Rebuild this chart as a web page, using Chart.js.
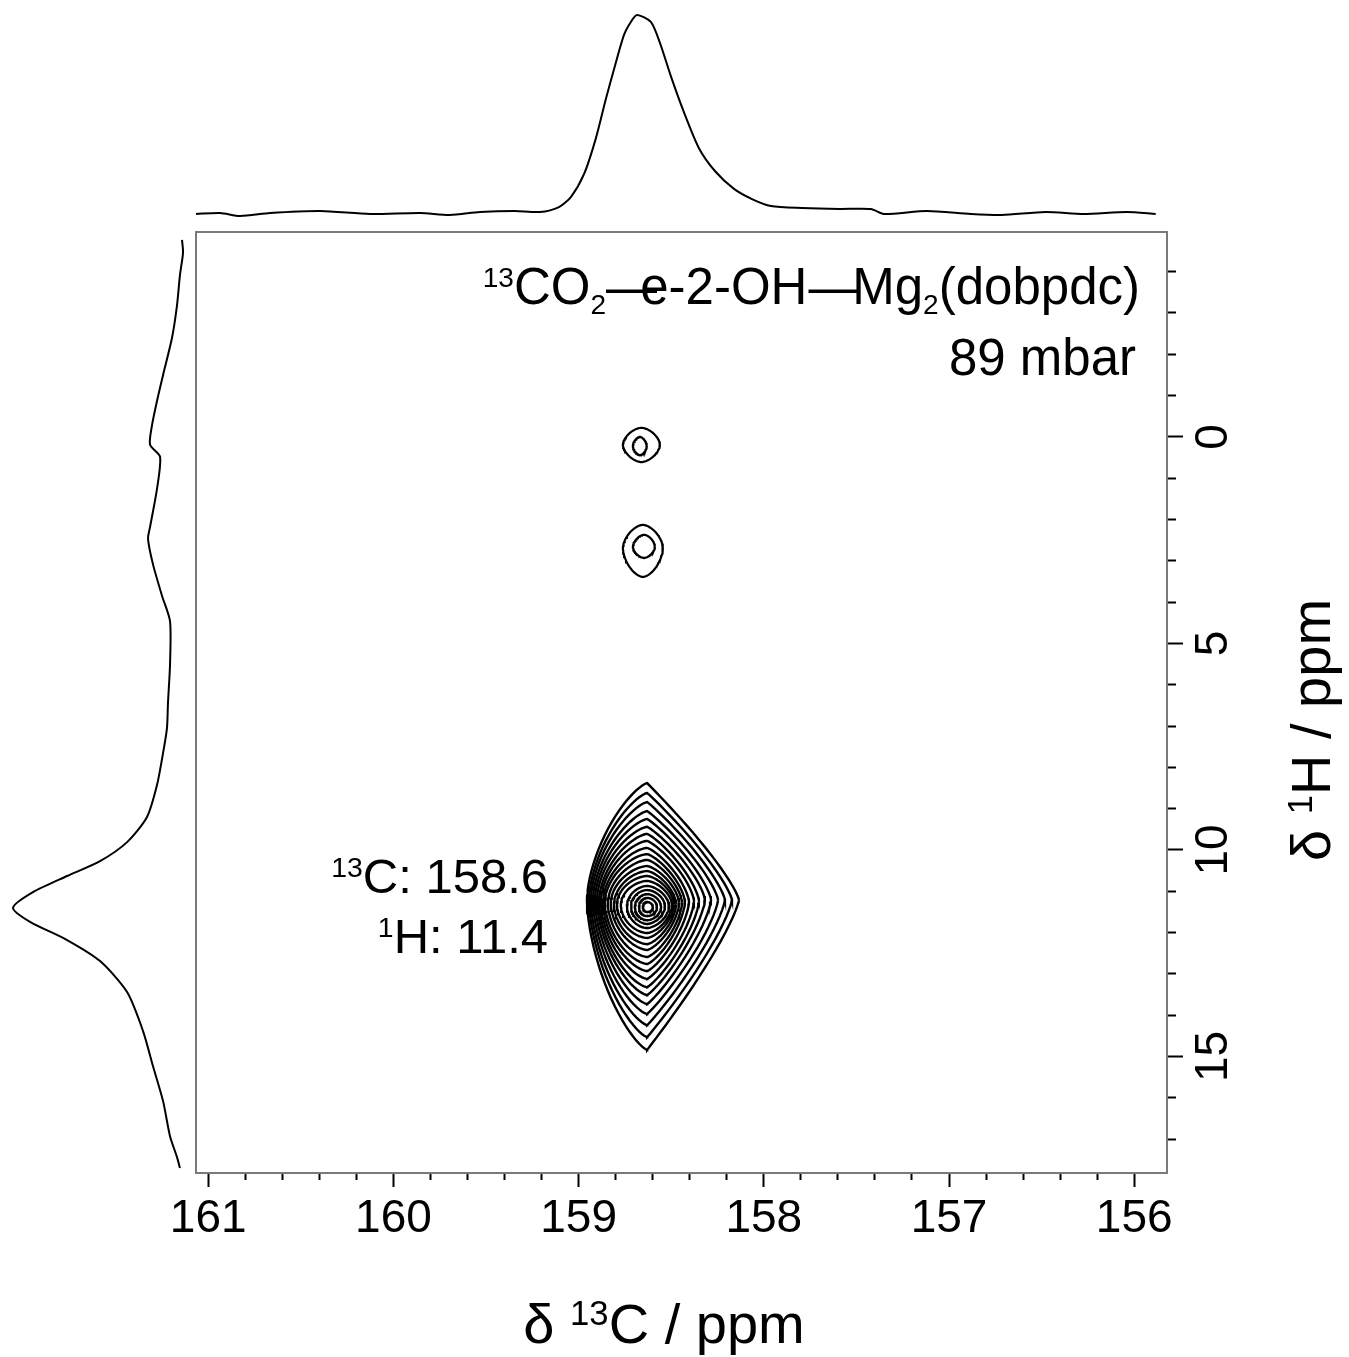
<!DOCTYPE html>
<html><head><meta charset="utf-8">
<script src="https://cdn.jsdelivr.net/npm/chart.js"></script>
<style>
html,body{margin:0;padding:0;background:#fff;}
#wrap{position:relative;width:1349px;height:1357px;background:#fff;}
canvas{position:absolute;left:0;top:0;}
</style></head><body>
<div id="wrap">
<canvas id="cTop" width="1349" height="232"></canvas>
<canvas id="cLeft" width="196" height="1357"></canvas>
<canvas id="cMain" width="1349" height="1357"></canvas>
</div>
<script>
// ---------- axis ranges and tick labels ----------
const C_MIN = 155.823, C_MAX = 161.066;   // 13C ppm (reversed)
const H_MIN = -4.96, H_MAX = 17.82;       // 1H ppm (reversed, downwards)
const cTickLabels = [156, 157, 158, 159, 160, 161];
const hTickLabels = [0, 5, 10, 15];

// ---------- 13C projection (top) ----------
const projC_ppm = [161.066, 160.936, 160.828, 160.666, 160.396, 160.126, 159.856, 159.695, 159.533, 159.344, 159.209, 159.106, 159.042, 158.971, 158.907, 158.853, 158.804, 158.755, 158.718, 158.685, 158.610, 158.561, 158.502, 158.432, 158.351, 158.264, 158.161, 158.064, 157.961, 157.794, 157.589, 157.422, 157.352, 157.120, 156.882, 156.715, 156.478, 156.273, 156.041, 155.884];
const projC_int = [0.0, 0.005, -0.01, 0.005, 0.015, 0.0, 0.005, -0.005, 0.01, 0.015, 0.01, 0.035, 0.085, 0.20, 0.38, 0.578, 0.744, 0.90, 0.965, 1.0, 0.965, 0.86, 0.693, 0.513, 0.332, 0.216, 0.126, 0.075, 0.04, 0.03, 0.025, 0.025, 0.0, 0.015, 0.0, -0.005, 0.01, 0.0, 0.01, 0.0];

// ---------- 1H projection (left) ----------
const projH_ppm = [-4.77, -4.46, -3.92, -3.17, -2.40, -1.50, -0.87, -0.27, 0.19, 0.48, 1.26, 2.18, 2.47, 3.08, 3.85, 4.46, 5.52, 6.44, 7.05, 7.65, 8.43, 9.20, 9.81, 10.27, 10.63, 11.02, 11.40, 11.74, 12.18, 12.69, 13.44, 14.38, 15.23, 16.08, 16.93, 17.43, 17.70];
const projH_int = [0.0, -0.006, 0.012, 0.030, 0.059, 0.112, 0.148, 0.178, 0.189, 0.130, 0.148, 0.189, 0.201, 0.172, 0.118, 0.071, 0.071, 0.083, 0.089, 0.112, 0.148, 0.207, 0.325, 0.485, 0.680, 0.882, 1.0, 0.899, 0.680, 0.485, 0.325, 0.231, 0.172, 0.112, 0.071, 0.030, 0.012];

// ---------- main cross peak contours (outer -> inner), extents in ppm ----------
const mainPeakC = 158.63;
const mainMidH    = [11.21, 11.21, 11.21, 11.21, 11.21, 11.21, 11.24, 11.24, 11.26, 11.26, 11.28, 11.28, 11.31, 11.31, 11.33, 11.36, 11.36, 11.38, 11.38, 11.38];
const mainLeftC   = [158.955, 158.944, 158.934, 158.923, 158.912, 158.901, 158.890, 158.880, 158.869, 158.858, 158.842, 158.826, 158.809, 158.793, 158.772, 158.739, 158.717, 158.696, 158.674, 158.653];
const mainRightC  = [158.134, 158.172, 158.210, 158.247, 158.285, 158.318, 158.350, 158.377, 158.404, 158.426, 158.442, 158.458, 158.474, 158.485, 158.496, 158.512, 158.534, 158.555, 158.577, 158.599];
const mainTopH    = [8.38, 8.62, 8.84, 9.06, 9.25, 9.44, 9.61, 9.78, 9.95, 10.10, 10.24, 10.39, 10.51, 10.63, 10.75, 10.87, 10.97, 11.07, 11.16, 11.26];
const mainBottomH = [14.84, 14.53, 14.24, 13.97, 13.73, 13.51, 13.32, 13.12, 12.93, 12.76, 12.59, 12.42, 12.28, 12.13, 12.01, 11.89, 11.79, 11.70, 11.60, 11.50];

// ---------- weak peaks near 0.2 and 2.7 ppm (two contours each) ----------
const smallCenterC = [158.661, 158.669, 158.653, 158.647];
const smallCenterH = [0.19, 0.22, 2.69, 2.66];
const smallLeftC   = [158.761, 158.707, 158.761, 158.707];
const smallRightC  = [158.561, 158.632, 158.545, 158.588];
const smallTopH    = [-0.22, 0.00, 2.13, 2.37];
const smallBottomH = [0.61, 0.44, 3.39, 2.93];

// ---------- helpers ----------
const FONT = '"Liberation Sans", Arial, Helvetica, sans-serif';
function ring(cx, cy, left, right, top, bottom, st) {
  const pts = [];
  const dxR = cx - right, dxL = left - cx, dyT = cy - top, dyB = bottom - cy;
  const N = 96;
  for (let i = 0; i <= N; i++) {
    const th = (i % N) / N * 2 * Math.PI;
    const c = Math.cos(th), s = Math.sin(th);
    const ac = Math.abs(c), as = Math.abs(s);
    let x, y;
    if (c >= 0) {
      x = cx - dxR * Math.pow(ac, st.exR);
      y = s >= 0 ? cy + dyB * Math.pow(as, st.eyR) : cy - dyT * Math.pow(as, st.eyR);
    } else {
      x = cx + dxL * Math.pow(ac, st.exL);
      y = s >= 0 ? cy + dyB * Math.pow(as, st.eyL) : cy - dyT * Math.pow(as, st.eyL);
    }
    pts.push({x: x, y: y});
  }
  return pts;
}
const lineDs = (pts, w) => ({data: pts, showLine: true, borderColor: '#000', borderWidth: w, pointRadius: 0, fill: false, tension: 0});

const contourSets = [];
const nMain = mainTopH.length;
for (let k = 0; k < nMain; k++) {
  const f = k / (nMain - 1);
  const st = {exR: 2.0 - 1.0 * f, eyR: 1.6 - 0.6 * f, exL: 1.5 - 0.5 * f, eyL: 1.2 - 0.2 * f};
  contourSets.push(lineDs(ring(mainPeakC, mainMidH[k], mainLeftC[k], mainRightC[k], mainTopH[k], mainBottomH[k], st), 2.4));
}
for (let k = 0; k < smallCenterC.length; k++) {
  const st = {exR: 1.2, eyR: 1.2, exL: 1.2, eyL: 1.2};
  contourSets.push(lineDs(ring(smallCenterC[k], smallCenterH[k], smallLeftC[k], smallRightC[k], smallTopH[k], smallBottomH[k], st), 2.2));
}

const isWhole = v => Math.abs(v - Math.round(v)) < 1e-6;

function richWidth(ctx, runs, size, supScale) {
  let w = 0;
  runs.forEach(r => {
    const fs = (r.sup || r.sub) ? size * supScale : size;
    ctx.font = fs + 'px ' + FONT;
    w += (r.dx || 0) * size + ctx.measureText(r.t).width;
  });
  return w;
}
function drawRich(ctx, runs, x, y, size, align, supScale) {
  supScale = supScale || 0.55;
  const w = richWidth(ctx, runs, size, supScale);
  let cx = align === 'right' ? x - w : (align === 'center' ? x - w / 2 : x);
  ctx.textBaseline = 'alphabetic';
  ctx.textAlign = 'left';
  ctx.fillStyle = '#000';
  runs.forEach(r => {
    const fs = (r.sup || r.sub) ? size * supScale : size;
    ctx.font = fs + 'px ' + FONT;
    cx += (r.dx || 0) * size;
    const yo = r.sup ? -0.33 * size : (r.sub ? 0.2 * size : 0);
    ctx.fillText(r.t, cx, y + yo);
    cx += ctx.measureText(r.t).width;
  });
}

const framePlugin = {
  id: 'frame',
  afterDraw(chart) {
    const {ctx, chartArea: a} = chart;
    ctx.save();
    ctx.strokeStyle = '#7a7a7a';
    ctx.lineWidth = 2;
    ctx.strokeRect(a.left, a.top, a.right - a.left, a.bottom - a.top);
    // texts
    drawRich(ctx, [{t: '13', sup: true}, {t: 'CO'}, {t: '2', sub: true}, {t: '\u2014'}, {t: 'e', dx: -0.33}, {t: '-2-OH'}, {t: '\u2014', dx: 0.02}, {t: 'Mg', dx: -0.14}, {t: '2', sub: true}, {t: '(dobpdc)'}], 1140, 304, 51, 'right');
    drawRich(ctx, [{t: '89 mbar'}], 1136, 375, 51, 'right');
    drawRich(ctx, [{t: '13', sup: true}, {t: 'C: 158.6'}], 548, 893, 49, 'right', 0.58);
    drawRich(ctx, [{t: '1', sup: true}, {t: 'H: 11.4'}], 548, 953, 49, 'right', 0.58);
    drawRich(ctx, [{t: '\u03b4 '}, {t: '13', sup: true}, {t: 'C / ppm'}], 664, 1343, 56, 'center', 0.62);
    ctx.translate(1310, 730);
    ctx.rotate(-Math.PI / 2);
    drawRich(ctx, [{t: '\u03b4 '}, {t: '1', sup: true}, {t: 'H / ppm'}], 0, 20, 56, 'center', 0.62);
    ctx.restore();
  }
};

const common = {responsive: false, animation: false, devicePixelRatio: 1, events: [],
  plugins: {legend: {display: false}, tooltip: {enabled: false}}};

// ---------- main 2D chart ----------
new Chart(document.getElementById('cMain'), {
  type: 'scatter',
  data: {datasets: contourSets},
  options: Object.assign({}, common, {
    layout: {padding: {left: 196, top: 232, right: 0, bottom: 0}},
    scales: {
      x: {
        type: 'linear', position: 'bottom', reverse: true, min: C_MIN, max: C_MAX,
        afterFit: s => { s.height = 184; },
        border: {display: false},
        grid: {drawOnChartArea: false, drawTicks: true, tickLength: 14, tickWidth: 2, tickColor: '#000',
          tickBorderDash: c => (c.tick && isWhole(c.tick.value)) ? [] : [7, 100]},
        ticks: {stepSize: 0.2, includeBounds: false, autoSkip: false, minRotation: 0, maxRotation: 0, padding: 5,
          color: '#000', font: {family: FONT, size: 46},
          callback: v => (isWhole(v) && cTickLabels.includes(Math.round(v))) ? String(Math.round(v)) : ''}
      },
      y: {
        type: 'linear', position: 'right', reverse: true, min: H_MIN, max: H_MAX,
        afterFit: s => { s.width = 182; },
        border: {display: false},
        grid: {drawOnChartArea: false, drawTicks: true, tickLength: 16, tickWidth: 2, tickColor: '#000',
          tickBorderDash: c => (c.tick && isWhole(c.tick.value / 5)) ? [] : [9, 100]},
        ticks: {stepSize: 1, includeBounds: false, autoSkip: false, minRotation: 90, maxRotation: 90, crossAlign: 'center', padding: 6,
          color: '#000', font: {family: FONT, size: 46},
          callback: v => (isWhole(v) && hTickLabels.includes(Math.round(v))) ? String(Math.round(v)) : ''}
      }
    }
  }),
  plugins: [framePlugin]
});

// ---------- top projection ----------
new Chart(document.getElementById('cTop'), {
  type: 'scatter',
  data: {datasets: [Object.assign(lineDs(projC_ppm.map((v, i) => ({x: v, y: projC_int[i]})), 2), {tension: 0.25})]},
  options: Object.assign({}, common, {
    layout: {padding: {left: 196, right: 182, top: 0, bottom: 0}},
    scales: {
      x: {type: 'linear', display: false, reverse: true, min: C_MIN, max: C_MAX},
      y: {type: 'linear', display: false, min: -0.0905, max: 1.0754}
    }
  })
});

// ---------- left projection ----------
new Chart(document.getElementById('cLeft'), {
  type: 'scatter',
  data: {datasets: [Object.assign(lineDs(projH_ppm.map((v, i) => ({x: projH_int[i], y: v})), 2), {tension: 0.25})]},
  options: Object.assign({}, common, {
    layout: {padding: {left: 0, right: 0, top: 232, bottom: 184}},
    scales: {
      x: {type: 'linear', display: false, reverse: true, min: -0.0828, max: 1.077},
      y: {type: 'linear', display: false, reverse: true, min: H_MIN, max: H_MAX}
    }
  })
});
</script>
</body></html>
